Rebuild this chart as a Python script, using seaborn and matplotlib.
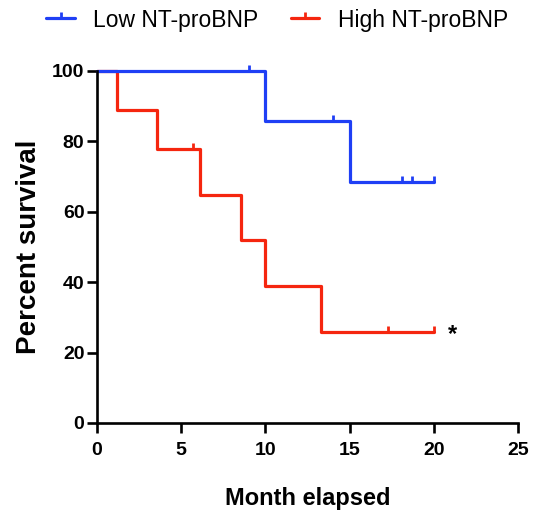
import numpy as np
import pandas as pd
import matplotlib
matplotlib.use("Agg")
import matplotlib.pyplot as plt
from matplotlib.path import Path
from matplotlib.lines import Line2D
import seaborn as sns

# ---- data ----
low_time = [0, 10, 15, 20]
low_surv = [100, 85.7, 68.6, 68.6]
low_cens_time = [9, 14, 18.1, 18.7, 20]
low_cens_surv = [100, 85.7, 68.6, 68.6, 68.6]

high_time = [0, 1.2, 3.55, 6.1, 8.55, 10, 13.3, 20]
high_surv = [100, 88.9, 77.8, 64.8, 51.9, 38.9, 25.9, 25.9]
high_cens_time = [5.7, 17.3, 20]
high_cens_surv = [77.8, 25.9, 25.9]

groups = ["Low NT-proBNP", "High NT-proBNP"]
colors = ["#1f3ff5", "#f5260f"]
x_ticks = [0, 5, 10, 15, 20, 25]
y_ticks = [0, 20, 40, 60, 80, 100]

sns.set_style("ticks")
plt.rcParams['font.family'] = ['Liberation Sans', 'DejaVu Sans']
plt.rcParams['text.color'] = 'black'
plt.rcParams['axes.labelcolor'] = 'black'
plt.rcParams['xtick.color'] = 'black'
plt.rcParams['ytick.color'] = 'black'

fig = plt.figure(figsize=(5.34, 5.18), dpi=100)
ax = fig.add_axes([0.1816, 0.1834, 0.970 - 0.1816, 0.863 - 0.1834])

tick_path = Path([(0, 0), (0, 1)], [Path.MOVETO, Path.LINETO])

df_low = pd.DataFrame({"t": low_time, "s": low_surv})
df_high = pd.DataFrame({"t": high_time, "s": high_surv})
for df, c in [(df_high, colors[1]), (df_low, colors[0])]:
    sns.lineplot(data=df, x="t", y="s", drawstyle="steps-post", color=c,
                 linewidth=2.3, ax=ax, clip_on=False, estimator=None, sort=False)

for tt, ss, c in [(high_cens_time, high_cens_surv, colors[1]),
                  (low_cens_time, low_cens_surv, colors[0])]:
    ax.plot(tt, ss, linestyle="none", marker=tick_path, markersize=9,
            markeredgewidth=2.0, color=c, clip_on=False)

ax.text(21.1, 25.0, "*", fontsize=17, fontweight="bold", ha="center", va="center")

ax.set_xlim(0, 25)
ax.set_ylim(0, 100)
ax.set_xticks(x_ticks)
ax.set_yticks(y_ticks)
ax.set_xticklabels([str(v) for v in x_ticks])
ax.set_yticklabels([str(v) for v in y_ticks])
for lab in ax.get_xticklabels() + ax.get_yticklabels():
    lab.set_fontweight("bold")
    lab.set_fontsize(14)
ax.tick_params(axis="both", length=7, width=1.9, color="black")
ax.tick_params(axis="x", pad=7)
ax.tick_params(axis="y", pad=2)
for side in ["top", "right"]:
    ax.spines[side].set_visible(False)
for side in ["left", "bottom"]:
    ax.spines[side].set_linewidth(1.9)
    ax.spines[side].set_color("black")

ax.set_xlabel("Month elapsed", fontsize=17, fontweight="bold", labelpad=20)
ax.set_ylabel("Percent survival", fontsize=20, fontweight="bold", labelpad=7)

handles = [Line2D([0], [0], color=c, linewidth=2.3, marker=tick_path,
                  markersize=9, markeredgewidth=2.0) for c in colors]
fig.legend(handles, groups, loc="center", bbox_to_anchor=(0.519, 1 - 20 / 518),
           ncol=2, frameon=False, handlelength=1.25, handletextpad=0.8,
           columnspacing=1.4, numpoints=1,
           prop={"family": ["Liberation Sans", "DejaVu Sans"], "size": 16.5})

fig.savefig("out.png", dpi=100)
